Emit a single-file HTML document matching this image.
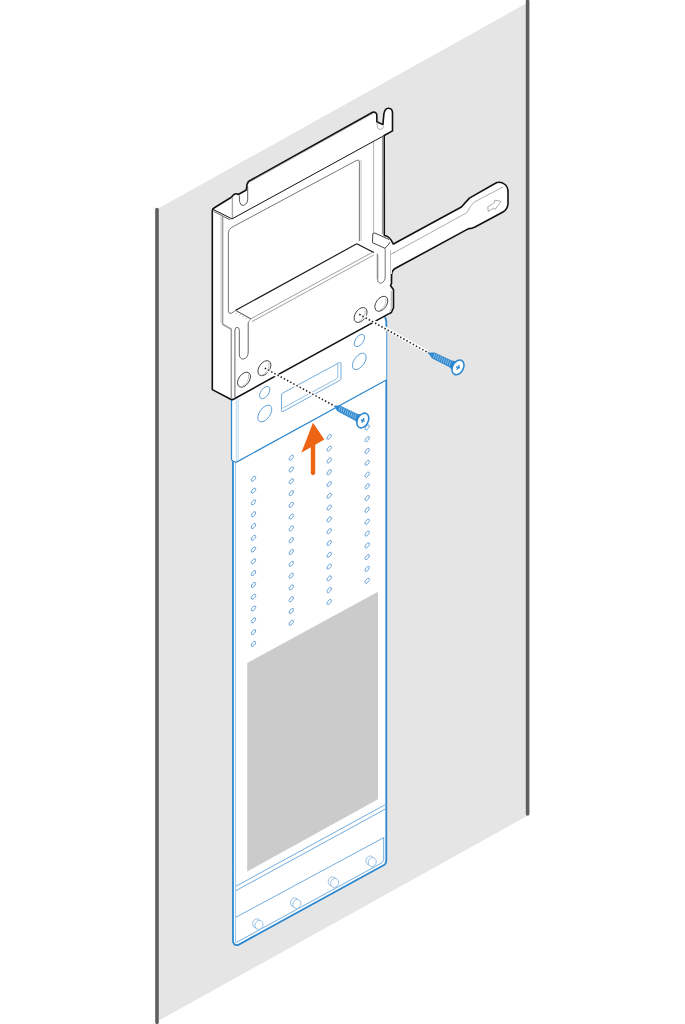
<!DOCTYPE html>
<html><head><meta charset="utf-8"><style>
html,body{margin:0;padding:0;background:#fff;width:685px;height:1024px;overflow:hidden;font-family:"Liberation Sans",sans-serif;}
svg{display:block;}
</style></head><body>
<svg width="685" height="1024" viewBox="0 0 685 1024">
<polygon points="159,208.1 527,2.9 527,816 159,1020.5" fill="#e5e5e5"/>
<line x1="157" y1="209.5" x2="157" y2="1022.3" stroke="#5e5e5e" stroke-width="3.6" stroke-linecap="round"/>
<line x1="527.6" y1="1.4" x2="527.6" y2="814" stroke="#5e5e5e" stroke-width="3.6" stroke-linecap="round"/>
<path d="M233,318 L233,941 Q233,945.5 238,945 L384,865 Q386.3,863.5 386.3,860 L386.3,323 Q386.3,316 382,314.5 L240,314 Z" fill="#fff" stroke="#2d88cf" stroke-width="1.8"/>
<line x1="235.6" y1="460" x2="235.6" y2="943" stroke="#8dbbe0" stroke-width="0.9"/>
<polygon points="247.2,663 378,591.7 378,799.3 247.2,871.6" fill="#cbcbcb"/>
<line x1="236" y1="886.2" x2="385" y2="804.8" stroke="#62a3d9" stroke-width="0.9"/>
<line x1="236" y1="890.6" x2="385" y2="809.3" stroke="#62a3d9" stroke-width="0.9"/>
<line x1="236" y1="917.2" x2="383.8" y2="837.6" stroke="#62a3d9" stroke-width="0.9"/>
<path d="M383.7,837.3 L383.7,859.5 Q383.5,862 381,863.3 L236.4,942.4" fill="none" stroke="#62a3d9" stroke-width="0.9"/>
<ellipse cx="256.6" cy="923.4" rx="3.9" ry="4.6" transform="rotate(20 256.6 923.4)" fill="#fff" stroke="#7fb0dc" stroke-width="0.7"/>
<ellipse cx="259.0" cy="924.9" rx="3.9" ry="4.6" transform="rotate(20 259.0 924.9)" fill="#fff" stroke="#7fb0dc" stroke-width="0.7"/>
<ellipse cx="294.4" cy="902.5" rx="3.9" ry="4.6" transform="rotate(20 294.4 902.5)" fill="#fff" stroke="#7fb0dc" stroke-width="0.7"/>
<ellipse cx="296.8" cy="904.0" rx="3.9" ry="4.6" transform="rotate(20 296.8 904.0)" fill="#fff" stroke="#7fb0dc" stroke-width="0.7"/>
<ellipse cx="332.2" cy="881.4" rx="3.9" ry="4.6" transform="rotate(20 332.2 881.4)" fill="#fff" stroke="#7fb0dc" stroke-width="0.7"/>
<ellipse cx="334.6" cy="882.9" rx="3.9" ry="4.6" transform="rotate(20 334.6 882.9)" fill="#fff" stroke="#7fb0dc" stroke-width="0.7"/>
<ellipse cx="369.9" cy="860.5" rx="3.9" ry="4.6" transform="rotate(20 369.9 860.5)" fill="#fff" stroke="#7fb0dc" stroke-width="0.7"/>
<ellipse cx="372.3" cy="862.0" rx="3.9" ry="4.6" transform="rotate(20 372.3 862.0)" fill="#fff" stroke="#7fb0dc" stroke-width="0.7"/>
<ellipse cx="253.5" cy="478.8" rx="1.5" ry="3.0" transform="rotate(38 253.5 478.8)" fill="none" stroke="#66a2d8" stroke-width="0.9"/>
<ellipse cx="253.5" cy="490.6" rx="1.5" ry="3.0" transform="rotate(38 253.5 490.6)" fill="none" stroke="#66a2d8" stroke-width="0.9"/>
<ellipse cx="253.5" cy="502.4" rx="1.5" ry="3.0" transform="rotate(38 253.5 502.4)" fill="none" stroke="#66a2d8" stroke-width="0.9"/>
<ellipse cx="253.5" cy="514.2" rx="1.5" ry="3.0" transform="rotate(38 253.5 514.2)" fill="none" stroke="#66a2d8" stroke-width="0.9"/>
<ellipse cx="253.5" cy="526.0" rx="1.5" ry="3.0" transform="rotate(38 253.5 526.0)" fill="none" stroke="#66a2d8" stroke-width="0.9"/>
<ellipse cx="253.5" cy="537.8" rx="1.5" ry="3.0" transform="rotate(38 253.5 537.8)" fill="none" stroke="#66a2d8" stroke-width="0.9"/>
<ellipse cx="253.5" cy="549.5" rx="1.5" ry="3.0" transform="rotate(38 253.5 549.5)" fill="none" stroke="#66a2d8" stroke-width="0.9"/>
<ellipse cx="253.5" cy="561.3" rx="1.5" ry="3.0" transform="rotate(38 253.5 561.3)" fill="none" stroke="#66a2d8" stroke-width="0.9"/>
<ellipse cx="253.5" cy="573.1" rx="1.5" ry="3.0" transform="rotate(38 253.5 573.1)" fill="none" stroke="#66a2d8" stroke-width="0.9"/>
<ellipse cx="253.5" cy="584.9" rx="1.5" ry="3.0" transform="rotate(38 253.5 584.9)" fill="none" stroke="#66a2d8" stroke-width="0.9"/>
<ellipse cx="253.5" cy="596.7" rx="1.5" ry="3.0" transform="rotate(38 253.5 596.7)" fill="none" stroke="#66a2d8" stroke-width="0.9"/>
<ellipse cx="253.5" cy="608.5" rx="1.5" ry="3.0" transform="rotate(38 253.5 608.5)" fill="none" stroke="#66a2d8" stroke-width="0.9"/>
<ellipse cx="253.5" cy="620.3" rx="1.5" ry="3.0" transform="rotate(38 253.5 620.3)" fill="none" stroke="#66a2d8" stroke-width="0.9"/>
<ellipse cx="253.5" cy="632.1" rx="1.5" ry="3.0" transform="rotate(38 253.5 632.1)" fill="none" stroke="#66a2d8" stroke-width="0.9"/>
<ellipse cx="253.5" cy="643.9" rx="1.5" ry="3.0" transform="rotate(38 253.5 643.9)" fill="none" stroke="#66a2d8" stroke-width="0.9"/>
<ellipse cx="291.3" cy="457.7" rx="1.5" ry="3.0" transform="rotate(38 291.3 457.7)" fill="none" stroke="#66a2d8" stroke-width="0.9"/>
<ellipse cx="291.3" cy="469.5" rx="1.5" ry="3.0" transform="rotate(38 291.3 469.5)" fill="none" stroke="#66a2d8" stroke-width="0.9"/>
<ellipse cx="291.3" cy="481.3" rx="1.5" ry="3.0" transform="rotate(38 291.3 481.3)" fill="none" stroke="#66a2d8" stroke-width="0.9"/>
<ellipse cx="291.3" cy="493.1" rx="1.5" ry="3.0" transform="rotate(38 291.3 493.1)" fill="none" stroke="#66a2d8" stroke-width="0.9"/>
<ellipse cx="291.3" cy="504.9" rx="1.5" ry="3.0" transform="rotate(38 291.3 504.9)" fill="none" stroke="#66a2d8" stroke-width="0.9"/>
<ellipse cx="291.3" cy="516.6" rx="1.5" ry="3.0" transform="rotate(38 291.3 516.6)" fill="none" stroke="#66a2d8" stroke-width="0.9"/>
<ellipse cx="291.3" cy="528.4" rx="1.5" ry="3.0" transform="rotate(38 291.3 528.4)" fill="none" stroke="#66a2d8" stroke-width="0.9"/>
<ellipse cx="291.3" cy="540.2" rx="1.5" ry="3.0" transform="rotate(38 291.3 540.2)" fill="none" stroke="#66a2d8" stroke-width="0.9"/>
<ellipse cx="291.3" cy="552.0" rx="1.5" ry="3.0" transform="rotate(38 291.3 552.0)" fill="none" stroke="#66a2d8" stroke-width="0.9"/>
<ellipse cx="291.3" cy="563.8" rx="1.5" ry="3.0" transform="rotate(38 291.3 563.8)" fill="none" stroke="#66a2d8" stroke-width="0.9"/>
<ellipse cx="291.3" cy="575.6" rx="1.5" ry="3.0" transform="rotate(38 291.3 575.6)" fill="none" stroke="#66a2d8" stroke-width="0.9"/>
<ellipse cx="291.3" cy="587.4" rx="1.5" ry="3.0" transform="rotate(38 291.3 587.4)" fill="none" stroke="#66a2d8" stroke-width="0.9"/>
<ellipse cx="291.3" cy="599.2" rx="1.5" ry="3.0" transform="rotate(38 291.3 599.2)" fill="none" stroke="#66a2d8" stroke-width="0.9"/>
<ellipse cx="291.3" cy="611.0" rx="1.5" ry="3.0" transform="rotate(38 291.3 611.0)" fill="none" stroke="#66a2d8" stroke-width="0.9"/>
<ellipse cx="291.3" cy="622.8" rx="1.5" ry="3.0" transform="rotate(38 291.3 622.8)" fill="none" stroke="#66a2d8" stroke-width="0.9"/>
<ellipse cx="329.2" cy="436.9" rx="1.5" ry="3.0" transform="rotate(38 329.2 436.9)" fill="none" stroke="#66a2d8" stroke-width="0.9"/>
<ellipse cx="329.2" cy="448.7" rx="1.5" ry="3.0" transform="rotate(38 329.2 448.7)" fill="none" stroke="#66a2d8" stroke-width="0.9"/>
<ellipse cx="329.2" cy="460.5" rx="1.5" ry="3.0" transform="rotate(38 329.2 460.5)" fill="none" stroke="#66a2d8" stroke-width="0.9"/>
<ellipse cx="329.2" cy="472.3" rx="1.5" ry="3.0" transform="rotate(38 329.2 472.3)" fill="none" stroke="#66a2d8" stroke-width="0.9"/>
<ellipse cx="329.2" cy="484.1" rx="1.5" ry="3.0" transform="rotate(38 329.2 484.1)" fill="none" stroke="#66a2d8" stroke-width="0.9"/>
<ellipse cx="329.2" cy="495.8" rx="1.5" ry="3.0" transform="rotate(38 329.2 495.8)" fill="none" stroke="#66a2d8" stroke-width="0.9"/>
<ellipse cx="329.2" cy="507.6" rx="1.5" ry="3.0" transform="rotate(38 329.2 507.6)" fill="none" stroke="#66a2d8" stroke-width="0.9"/>
<ellipse cx="329.2" cy="519.4" rx="1.5" ry="3.0" transform="rotate(38 329.2 519.4)" fill="none" stroke="#66a2d8" stroke-width="0.9"/>
<ellipse cx="329.2" cy="531.2" rx="1.5" ry="3.0" transform="rotate(38 329.2 531.2)" fill="none" stroke="#66a2d8" stroke-width="0.9"/>
<ellipse cx="329.2" cy="543.0" rx="1.5" ry="3.0" transform="rotate(38 329.2 543.0)" fill="none" stroke="#66a2d8" stroke-width="0.9"/>
<ellipse cx="329.2" cy="554.8" rx="1.5" ry="3.0" transform="rotate(38 329.2 554.8)" fill="none" stroke="#66a2d8" stroke-width="0.9"/>
<ellipse cx="329.2" cy="566.6" rx="1.5" ry="3.0" transform="rotate(38 329.2 566.6)" fill="none" stroke="#66a2d8" stroke-width="0.9"/>
<ellipse cx="329.2" cy="578.4" rx="1.5" ry="3.0" transform="rotate(38 329.2 578.4)" fill="none" stroke="#66a2d8" stroke-width="0.9"/>
<ellipse cx="329.2" cy="590.2" rx="1.5" ry="3.0" transform="rotate(38 329.2 590.2)" fill="none" stroke="#66a2d8" stroke-width="0.9"/>
<ellipse cx="329.2" cy="602.0" rx="1.5" ry="3.0" transform="rotate(38 329.2 602.0)" fill="none" stroke="#66a2d8" stroke-width="0.9"/>
<ellipse cx="367.2" cy="427.4" rx="1.5" ry="3.0" transform="rotate(38 367.2 427.4)" fill="none" stroke="#66a2d8" stroke-width="0.9"/>
<ellipse cx="367.2" cy="439.2" rx="1.5" ry="3.0" transform="rotate(38 367.2 439.2)" fill="none" stroke="#66a2d8" stroke-width="0.9"/>
<ellipse cx="367.2" cy="451.0" rx="1.5" ry="3.0" transform="rotate(38 367.2 451.0)" fill="none" stroke="#66a2d8" stroke-width="0.9"/>
<ellipse cx="367.2" cy="462.8" rx="1.5" ry="3.0" transform="rotate(38 367.2 462.8)" fill="none" stroke="#66a2d8" stroke-width="0.9"/>
<ellipse cx="367.2" cy="474.6" rx="1.5" ry="3.0" transform="rotate(38 367.2 474.6)" fill="none" stroke="#66a2d8" stroke-width="0.9"/>
<ellipse cx="367.2" cy="486.3" rx="1.5" ry="3.0" transform="rotate(38 367.2 486.3)" fill="none" stroke="#66a2d8" stroke-width="0.9"/>
<ellipse cx="367.2" cy="498.1" rx="1.5" ry="3.0" transform="rotate(38 367.2 498.1)" fill="none" stroke="#66a2d8" stroke-width="0.9"/>
<ellipse cx="367.2" cy="509.9" rx="1.5" ry="3.0" transform="rotate(38 367.2 509.9)" fill="none" stroke="#66a2d8" stroke-width="0.9"/>
<ellipse cx="367.2" cy="521.7" rx="1.5" ry="3.0" transform="rotate(38 367.2 521.7)" fill="none" stroke="#66a2d8" stroke-width="0.9"/>
<ellipse cx="367.2" cy="533.5" rx="1.5" ry="3.0" transform="rotate(38 367.2 533.5)" fill="none" stroke="#66a2d8" stroke-width="0.9"/>
<ellipse cx="367.2" cy="545.3" rx="1.5" ry="3.0" transform="rotate(38 367.2 545.3)" fill="none" stroke="#66a2d8" stroke-width="0.9"/>
<ellipse cx="367.2" cy="557.1" rx="1.5" ry="3.0" transform="rotate(38 367.2 557.1)" fill="none" stroke="#66a2d8" stroke-width="0.9"/>
<ellipse cx="367.2" cy="568.9" rx="1.5" ry="3.0" transform="rotate(38 367.2 568.9)" fill="none" stroke="#66a2d8" stroke-width="0.9"/>
<ellipse cx="367.2" cy="580.7" rx="1.5" ry="3.0" transform="rotate(38 367.2 580.7)" fill="none" stroke="#66a2d8" stroke-width="0.9"/>
<path d="M231.5,330 L231.5,458.5 Q231.5,462 236.6,462 L386.3,380 L386.3,330 Z" fill="#fff" stroke="none"/>
<path d="M231.5,330 L231.5,458.5 Q231.5,462 236.6,462 L386.3,380" fill="none" stroke="#2d88cf" stroke-width="1.25"/>
<path d="M236.3,461.5 L236.3,402 Q236.3,399 238,397.5" fill="none" stroke="#8fbde6" stroke-width="0.6"/>
<path d="M238.2,460.5 L238.2,403 Q238.2,400 240,398.5" fill="none" stroke="#8fbde6" stroke-width="0.6"/>
<path d="M283,393 L339.5,362.5 Q341,362 341,364 L341,378.5 Q341,380 339.5,380.5 L283,411.5 Q281.5,412 281.5,410.5 L281.5,395 Q281.5,393.5 283,393 Z" fill="none" stroke="#62a3d9" stroke-width="0.9"/>
<path d="M282.7,408.1 L336.3,379 Q337.8,378 337.8,376 L337.8,363.7" fill="none" stroke="#62a3d9" stroke-width="0.7"/>
<ellipse cx="264.7" cy="392.6" rx="3.9" ry="7.0" transform="rotate(35 264.7 392.6)" fill="none" stroke="#5fa0d8" stroke-width="0.9"/>
<ellipse cx="264.8" cy="413.5" rx="5.3" ry="9.6" transform="rotate(35 264.8 413.5)" fill="none" stroke="#5fa0d8" stroke-width="0.9"/>
<ellipse cx="359.4" cy="340.5" rx="3.9" ry="7.0" transform="rotate(35 359.4 340.5)" fill="none" stroke="#5fa0d8" stroke-width="0.9"/>
<ellipse cx="359.3" cy="361.4" rx="5.2" ry="9.4" transform="rotate(35 359.3 361.4)" fill="none" stroke="#5fa0d8" stroke-width="0.9"/>
<path d="M392,244.8 L461.4,207 Q465,203 469.4,198.1 L495,183.5 Q500,180.5 505,184.5 Q508,187 508,192 L508,203.7 Q507.5,209.5 503,212 L475,227 Q471,229 468.6,228.6 L395.5,268.3 Q391.8,270.5 391.6,274.5 L391,260 Z" fill="#fff" stroke="none"/>
<path d="M392,244.8 L461.4,207 Q465,203 469.4,198.1 L495,183.5 Q500,180.5 505,184.5 Q508,187 508,192 L508,203.7 Q507.5,209.5 503,212 L475,227 Q471,229 468.6,228.6 L395.5,268.3 Q391.8,270.5 391.6,274.5" fill="none" stroke="#111" stroke-width="1.6" stroke-linejoin="round"/>
<path d="M390.6,254.6 L467,212.6 Q470,206 474.2,202.1 L503,186.9" fill="none" stroke="#8a8a8a" stroke-width="0.7"/>
<path d="M487.8,206.8 L494.2,203 L494.8,200.2 L501.1,201.3 L495,209.5 L493.9,208.1 L488.2,211.4 Z" fill="#fff" stroke="#888" stroke-width="0.7" stroke-linejoin="round"/>
<path d="M212.3,211 Q212.3,209 214,208 L231.4,197.3 Q235,192 238.3,194.5 L246.3,190 L247,184.5 Q248,181 251,180 L372.7,112.2 Q376.5,111.5 376.8,115 L376.9,121.7 L382.9,124.6 L383.9,113.8 Q385,108 388.5,108.2 Q392.5,108.5 392.5,113 L392.5,130.9 L384.2,135.5 L384.3,235.5 Q390,236 393.5,244 L392,270 L391.5,283.6 L390.5,285.5 L393.5,289.8 L393.5,307.7 L391.5,312.3 L233.5,399.2 Q232,400 230.7,399.3 L212.3,389.6 Z" fill="#fff" stroke="none"/>
<path d="M390.6,254.6 L395,252.2" fill="none" stroke="#8a8a8a" stroke-width="0.7"/>
<path d="M391.6,274 L391.5,283.6 L390.5,285.5 L393.5,289.8 L393.5,307.7 L391.5,312.3 Q390.5,313 389.5,313.4 L233.5,399.2 Q232,400 230.7,399.3 L212.3,389.6 L212.3,211 Q212.3,209 214,208 L231.4,197.3 Q235,192 238.3,194.5 L246.3,190 L247,184.5 Q248,181 251,180 L372.7,112.2 Q376.5,111.5 376.8,115 L376.9,121.7 L382.9,124.6 L383.9,113.8 Q385,108 388.5,108.2 Q392.5,108.5 392.5,113 L392.5,130.9 L384.2,135.5 L384.3,235.5 Q390,236 393.5,244.5" fill="none" stroke="#111" stroke-width="1.6" stroke-linejoin="round"/>
<path d="M212.6,209.2 L232,218.9 L384.2,135.5" fill="none" stroke="#111" stroke-width="1.0"/>
<path d="M213.6,211.4 L230,219.8" fill="none" stroke="#444" stroke-width="0.8"/>
<line x1="232.4" y1="197" x2="232.4" y2="218" stroke="#a8a8a8" stroke-width="1.4"/>
<path d="M250.5,181.6 L373,113.3" fill="none" stroke="#666" stroke-width="0.9" stroke-dasharray="0.6 0.5"/>
<path d="M239.3,195.5 L239.5,201.5 Q240.5,206 243.5,205.5 Q247.5,204 247.7,200 L247.7,186" fill="none" stroke="#333" stroke-width="0.8"/>
<path d="M377.2,122 Q376.5,129 380,129.5 Q383,129.5 384,126" fill="none" stroke="#777" stroke-width="0.6"/>
<line x1="382.6" y1="136.5" x2="382.6" y2="234" stroke="#9a9a9a" stroke-width="1.4"/>
<line x1="373.6" y1="142" x2="373.6" y2="233" stroke="#aaa" stroke-width="0.9"/>
<path d="M222.6,215.5 L222.6,324.2 L231.3,329.3 L231.3,398" fill="none" stroke="#9d9d9d" stroke-width="1.5"/>
<line x1="221" y1="216" x2="221" y2="323" stroke="#b5b5b5" stroke-width="0.8"/>
<path d="M228.4,311 L228.4,233 Q228.4,229 232,227.2 L357,160.2 Q359.4,159.4 359.4,162 L359.4,241" fill="none" stroke="#555" stroke-width="0.8"/>
<line x1="361" y1="160" x2="361" y2="241" stroke="#aaa" stroke-width="0.7"/>
<path d="M228.4,311 Q228.6,314 231,313.4 L235.7,310.5" fill="none" stroke="#555" stroke-width="0.8"/>
<line x1="235.7" y1="310.3" x2="356.8" y2="243.8" stroke="#1a1a1a" stroke-width="1.15"/>
<line x1="356.8" y1="243.8" x2="373.8" y2="252.6" stroke="#111" stroke-width="1.1"/>
<line x1="235.7" y1="310.3" x2="251" y2="319" stroke="#333" stroke-width="0.9"/>
<line x1="251.3" y1="318.6" x2="373.8" y2="251.6" stroke="#777" stroke-width="0.7"/>
<line x1="252" y1="321.6" x2="373.8" y2="255" stroke="#777" stroke-width="0.7"/>
<path d="M251.3,318.6 Q249,320 248.2,323" fill="none" stroke="#777" stroke-width="0.7"/>
<line x1="238.5" y1="312.5" x2="236" y2="314.0" stroke="#999" stroke-width="0.5"/>
<line x1="241.5" y1="314.1" x2="239" y2="315.6" stroke="#999" stroke-width="0.5"/>
<line x1="244.5" y1="315.7" x2="242" y2="317.2" stroke="#999" stroke-width="0.5"/>
<line x1="247.5" y1="317.3" x2="245" y2="318.8" stroke="#999" stroke-width="0.5"/>
<path d="M234.9,397 L234.9,330 Q235.3,327.3 237.2,327.3 Q239.3,327.5 239.3,330.5 L239.3,354 Q239.5,359.5 243.5,359 Q248.2,358 248.2,352 L248.2,322.5" fill="none" stroke="#555" stroke-width="0.9"/>
<path d="M377.3,253.5 L377.3,278 Q377.5,283.5 381,283.2 Q385.2,282 385.2,276 L385.2,248.5" fill="none" stroke="#555" stroke-width="0.8"/>
<line x1="378.6" y1="255" x2="378.6" y2="279" stroke="#bbb" stroke-width="0.6"/>
<line x1="390.5" y1="250" x2="390.5" y2="282" stroke="#aaa" stroke-width="0.7"/>
<path d="M391.3,291 L391.3,308.5 L389.5,311.5" fill="none" stroke="#999" stroke-width="0.8"/>
<path d="M372.8,233.5 L372.5,242.7 L385,248.3 Q388.5,245 390.2,242.1" fill="none" stroke="#333" stroke-width="0.9"/>
<path d="M372.8,233.5 Q374,232.5 376,233.5 L389,239.5" fill="none" stroke="#333" stroke-width="0.9"/>
<ellipse cx="244.0" cy="379.7" rx="5.3" ry="8.4" transform="rotate(35 244.0 379.7)" fill="#fff" stroke="#444" stroke-width="0.9"/>
<path d="M248.6,374.2 Q249.5,382.7 241.5,386.9" fill="none" stroke="#aaa" stroke-width="0.7"/>
<ellipse cx="381.3" cy="303.8" rx="5.3" ry="8.4" transform="rotate(35 381.3 303.8)" fill="#fff" stroke="#444" stroke-width="0.9"/>
<path d="M385.9,298.3 Q386.8,306.8 378.8,311.0" fill="none" stroke="#aaa" stroke-width="0.7"/>
<ellipse cx="264.4" cy="368.2" rx="5.3" ry="8.4" transform="rotate(35 264.4 368.2)" fill="#fff" stroke="#444" stroke-width="0.9"/>
<path d="M269.0,362.7 Q269.9,371.2 261.9,375.4" fill="none" stroke="#aaa" stroke-width="0.7"/>
<ellipse cx="360.6" cy="315.0" rx="5.3" ry="8.4" transform="rotate(35 360.6 315.0)" fill="#fff" stroke="#444" stroke-width="0.9"/>
<path d="M365.2,309.5 Q366.1,318.0 358.1,322.2" fill="none" stroke="#aaa" stroke-width="0.7"/>
<line x1="364" y1="316.2" x2="427" y2="351.9" stroke="#fff" stroke-width="3.6"/>
<line x1="267.5" y1="370.3" x2="332.5" y2="405" stroke="#fff" stroke-width="3.6"/>
<line x1="359.3" y1="314.2" x2="429" y2="353.2" stroke="#2a2a2a" stroke-width="1.6" stroke-dasharray="1.5 2.1"/>
<line x1="264.8" y1="368.2" x2="334.5" y2="406" stroke="#2a2a2a" stroke-width="1.6" stroke-dasharray="1.5 2.1"/>
<path d="M428.8,353.1 L434.5,352.9 L451.7,360.9 L456.3,361.7 L452.5,369.6 L448.9,366.5 L432.0,357.9 Z" fill="#2d88cf" stroke="#2d88cf" stroke-width="0.8" stroke-linejoin="round"/><line x1="434.7" y1="353.5" x2="433.5" y2="357.8" stroke="#cfe3f6" stroke-width="0.6"/><line x1="436.7" y1="354.5" x2="435.5" y2="358.8" stroke="#cfe3f6" stroke-width="0.6"/><line x1="438.7" y1="355.5" x2="437.4" y2="359.8" stroke="#cfe3f6" stroke-width="0.6"/><line x1="440.6" y1="356.4" x2="439.4" y2="360.7" stroke="#cfe3f6" stroke-width="0.6"/><line x1="442.6" y1="357.4" x2="441.4" y2="361.7" stroke="#cfe3f6" stroke-width="0.6"/><line x1="444.6" y1="358.4" x2="443.4" y2="362.7" stroke="#cfe3f6" stroke-width="0.6"/><line x1="446.6" y1="359.3" x2="445.3" y2="363.7" stroke="#cfe3f6" stroke-width="0.6"/><line x1="448.5" y1="360.3" x2="447.3" y2="364.6" stroke="#cfe3f6" stroke-width="0.6"/><line x1="450.5" y1="361.3" x2="449.3" y2="365.6" stroke="#cfe3f6" stroke-width="0.6"/><ellipse cx="458.0" cy="367.4" rx="5.4" ry="7.8" transform="rotate(28 458.0 367.4)" fill="#fff" stroke="#2d88cf" stroke-width="1.6"/><path d="M456.1,366.9 L459.9,368.0 M459.3,365.0 L456.9,369.7" stroke="#2d88cf" stroke-width="1.4"/>
<path d="M334.4,406.0 L340.1,405.9 L357.2,414.2 L361.8,415.0 L357.8,422.9 L354.3,419.8 L337.5,410.9 Z" fill="#2d88cf" stroke="#2d88cf" stroke-width="0.8" stroke-linejoin="round"/><line x1="340.3" y1="406.5" x2="339.0" y2="410.8" stroke="#cfe3f6" stroke-width="0.6"/><line x1="342.3" y1="407.5" x2="341.0" y2="411.8" stroke="#cfe3f6" stroke-width="0.6"/><line x1="344.2" y1="408.5" x2="342.9" y2="412.8" stroke="#cfe3f6" stroke-width="0.6"/><line x1="346.2" y1="409.5" x2="344.9" y2="413.8" stroke="#cfe3f6" stroke-width="0.6"/><line x1="348.1" y1="410.5" x2="346.8" y2="414.8" stroke="#cfe3f6" stroke-width="0.6"/><line x1="350.1" y1="411.5" x2="348.8" y2="415.8" stroke="#cfe3f6" stroke-width="0.6"/><line x1="352.1" y1="412.5" x2="350.8" y2="416.8" stroke="#cfe3f6" stroke-width="0.6"/><line x1="354.0" y1="413.5" x2="352.7" y2="417.8" stroke="#cfe3f6" stroke-width="0.6"/><line x1="356.0" y1="414.5" x2="354.7" y2="418.8" stroke="#cfe3f6" stroke-width="0.6"/><ellipse cx="362.8" cy="420.5" rx="5.4" ry="7.8" transform="rotate(28 362.8 420.5)" fill="#fff" stroke="#2d88cf" stroke-width="1.6"/><path d="M360.9,420.0 L364.7,421.1 M364.1,418.1 L361.7,422.8" stroke="#2d88cf" stroke-width="1.4"/>
<path d="M313,422.8 L324.3,439.6 L315.2,444.8 L315.2,473.4 Q313,477 310.8,473.4 L310.8,447.2 L301.3,452.7 Z" fill="#ec6414"/>
</svg>
</body></html>
